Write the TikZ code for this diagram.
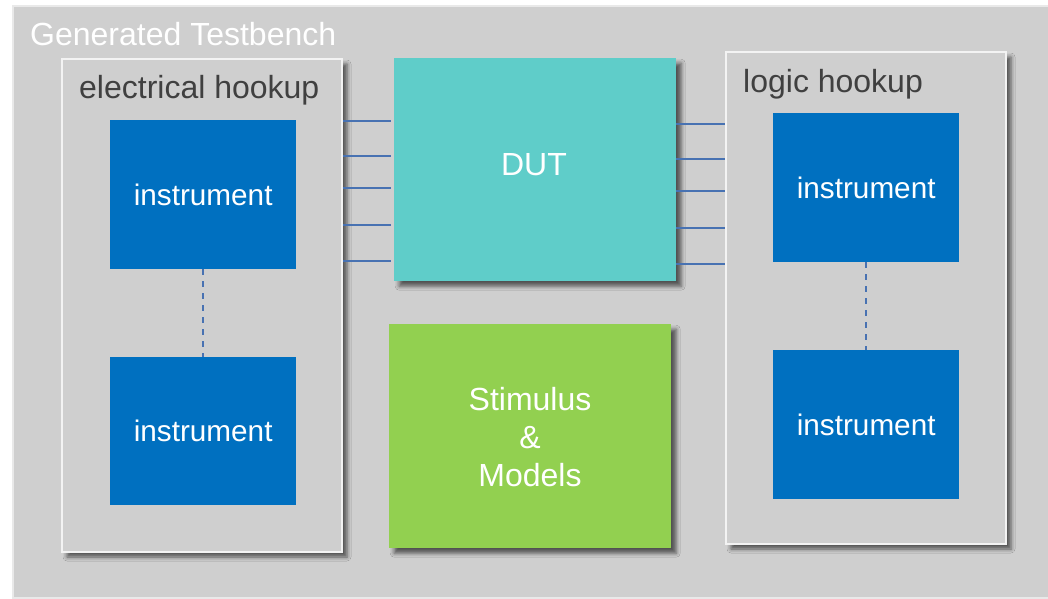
\documentclass[tikz,border=0pt]{standalone}
\usepackage{fontspec}
\setmainfont{Liberation Sans}
\usetikzlibrary{shadows.blur}

\definecolor{benchgray}{HTML}{CFCFCF}
\definecolor{benchedge}{HTML}{E9E9E9}
\definecolor{hookedge}{HTML}{F3F3F3}
\definecolor{instblue}{HTML}{0070C0}
\definecolor{dutteal}{HTML}{5FCDC9}
\definecolor{stimgreen}{HTML}{92D050}
\definecolor{wireblue}{HTML}{4872B2}
\definecolor{labelgray}{HTML}{404040}

\tikzset{
  softshadow/.style={blur shadow={shadow xshift=5pt, shadow yshift=-5pt,
      shadow blur radius=4pt, shadow opacity=60}},
  block/.style={rectangle, inner sep=0pt, anchor=north west, text=white,
      font=\fontsize{32}{38}\selectfont, softshadow},
  hookbox/.style={rectangle, inner sep=0pt, anchor=north west, fill=benchgray,
      draw=hookedge, line width=2pt, minimum width=280pt, softshadow},
  instbox/.style={rectangle, inner sep=0pt, anchor=north west, fill=instblue,
      text=white, minimum width=186pt, minimum height=149pt,
      font=\fontsize{29.7}{34}\selectfont},
  hooklabel/.style={anchor=base west, inner sep=0pt, text=labelgray,
      font=\fontsize{32}{38}\selectfont},
  wire/.style={draw=wireblue, line width=2pt},
  link/.style={draw=wireblue, line width=2pt, dash pattern=on 6pt off 6pt},
}

\begin{document}
\begin{tikzpicture}[x=1pt, y=-1pt]
  \useasboundingbox (0,0) rectangle (1048,598);
  \fill[white] (0,0) rectangle (1048,598);

  % testbench frame
  \node[rectangle, anchor=north west, inner sep=0pt, fill=benchgray,
        draw=benchedge, line width=2pt,
        minimum width=1050pt, minimum height=592pt] (bench) at (12,5) {};
  \node[anchor=base west, inner sep=0pt, text=white,
        font=\fontsize{32}{38}\selectfont] (benchlabel) at (30,45) {Generated Testbench};

  % hookup containers
  \node[hookbox, minimum height=493pt] (elec) at (61,58) {};
  \node[hooklabel] (eleclabel) at (79,98) {electrical hookup};
  \node[hookbox, minimum height=492pt] (logic) at (725,51) {};
  \node[hooklabel] (logiclabel) at (743,92) {logic hookup};

  % instruments
  \node[instbox] (ei1) at (110,120) {instrument};
  \node[instbox, minimum height=148pt] (ei2) at (110,357) {instrument};
  \node[instbox] (li1) at (773,113) {instrument};
  \node[instbox] (li2) at (773,350) {instrument};
  \draw[link] (ei1.south) -- (ei2.north);
  \draw[link] (li1.south) -- (li2.north);

  % device under test
  \node[block, fill=dutteal, minimum width=282pt, minimum height=223pt] (dut) at (394,58) {};
  \node[inner sep=0pt, text=white, font=\fontsize{32}{38}\selectfont]
       (dutlabel) at (534,165) {DUT};

  % stimulus and models
  \node[block, fill=stimgreen, minimum width=282pt, minimum height=224pt] (stim) at (389,324) {};
  \node[inner sep=0pt, text=white, font=\fontsize{32}{38}\selectfont, align=center]
       (stimlabel) at (530,437) {Stimulus\\\&\\Models};

  % signal wires
  \foreach \y in {120.5,156,188,225,261}
    \draw[wire, shorten >=3pt] (elec.east |- 0,\y) -- (dut.west |- 0,\y);
  \foreach \y in {123.5,159,191,228,263.5}
    \draw[wire] (dut.east |- 0,\y) -- (logic.west |- 0,\y);
\end{tikzpicture}
\end{document}
